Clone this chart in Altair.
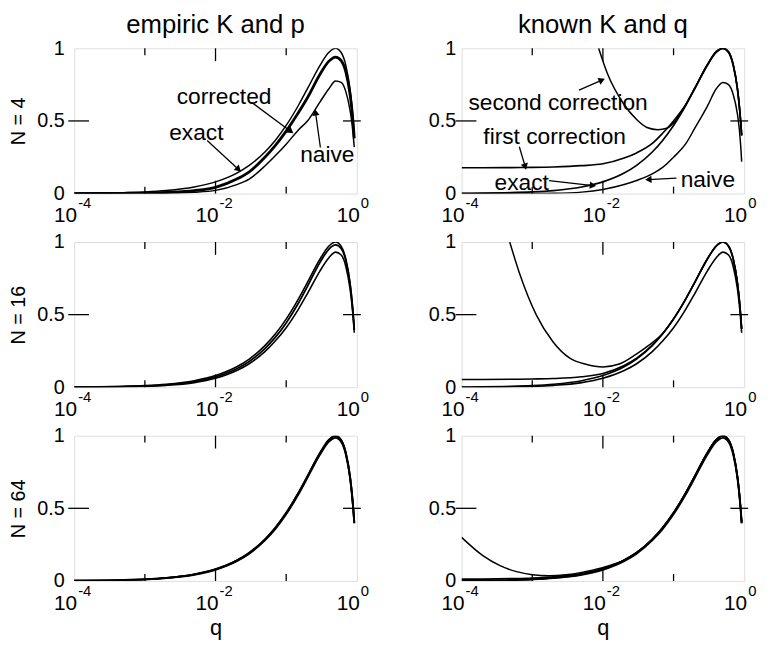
import math
import altair as alt
import pandas as pd

FONT = "Liberation Sans"
PW, PH = 286, 147

# ---------------- data ----------------
Q = [1e-4, 2e-4, 5e-4, 1e-3, 2e-3, 5e-3, 0.01, 0.02, 0.03, 0.05, 0.07, 0.1,
     0.15, 0.2, 0.3, 0.4, 0.5, 0.6, 0.7, 0.8, 0.85, 0.9, 0.92]

exact = [0.0015, 0.0027, 0.0062, 0.0114, 0.0208, 0.0454, 0.0808, 0.1414, 0.1944,
         0.2864, 0.3659, 0.469, 0.6098, 0.7219, 0.8813, 0.971, 1.0, 0.971, 0.8813,
         0.7219, 0.6098, 0.469, 0.4022]

# N = 4
emp4_corrected = [0.0004, 0.0008, 0.002, 0.004, 0.009, 0.021, 0.043, 0.1, 0.15, 0.25,
                  0.33, 0.43, 0.56, 0.66, 0.82, 0.91, 0.94, 0.915, 0.835, 0.685, 0.58,
                  0.445, 0.38]
emp4_naive = [0.0, 0.0001, 0.0005, 0.0012, 0.003, 0.009, 0.022, 0.062, 0.1, 0.19, 0.26,
              0.34, 0.44, 0.5, 0.63, 0.72, 0.775, 0.765, 0.7, 0.575, 0.49, 0.37, 0.32]
known4_naive = [0.0, 0.0001, 0.0003, 0.0008, 0.002, 0.01, 0.028, 0.062, 0.09, 0.135, 0.18,
                0.25, 0.345, 0.45, 0.6, 0.72, 0.765, 0.75, 0.68, 0.55, 0.45, 0.3, 0.22]
known4_first = [0.178, 0.178, 0.179, 0.18, 0.183, 0.192, 0.205, 0.245, 0.28, 0.345, 0.415,
                0.5, 0.615, 0.725, 0.885, 0.975, 1.0, 0.975, 0.885, 0.725, 0.61, 0.47, 0.4]
known4_second_q = [0.0087, 0.0115, 0.0195, 0.03, 0.042, 0.06, 0.08, 0.11, 0.15, 0.2, 0.3,
                   0.4, 0.5, 0.6, 0.7, 0.8, 0.85, 0.9, 0.92]
known4_second = [1.0, 0.83, 0.62, 0.51, 0.455, 0.44, 0.45, 0.51, 0.615, 0.727, 0.887,
                 0.978, 1.0, 0.978, 0.887, 0.727, 0.61, 0.47, 0.40]

# N = 16
emp16_corrected = [0.001, 0.002, 0.005, 0.009, 0.017, 0.039, 0.072, 0.128, 0.178, 0.266,
                   0.343, 0.443, 0.582, 0.695, 0.858, 0.95, 0.98, 0.955, 0.87, 0.712,
                   0.6, 0.46, 0.395]
naive16 = [0.0005, 0.001, 0.003, 0.006, 0.013, 0.032, 0.062, 0.115, 0.162, 0.245, 0.318,
           0.41, 0.54, 0.645, 0.8, 0.89, 0.93, 0.91, 0.83, 0.68, 0.575, 0.44, 0.375]
known16_first = [0.054, 0.054, 0.055, 0.057, 0.06, 0.072, 0.095, 0.15, 0.2, 0.29, 0.368,
                 0.47, 0.61, 0.722, 0.881, 0.971, 1.0, 0.971, 0.881, 0.722, 0.61, 0.469,
                 0.402]
known16_second_q = [4.8e-4, 6.6e-4, 1.15e-3, 1.95e-3, 3.4e-3, 5.75e-3, 0.01, 0.017, 0.029,
                    0.045, 0.07, 0.1, 0.15, 0.2, 0.3, 0.4, 0.5, 0.6, 0.7, 0.8, 0.85, 0.9,
                    0.92]
known16_second = [1.0, 0.785, 0.495, 0.315, 0.2, 0.158, 0.14, 0.16, 0.225, 0.29, 0.37,
                  0.472, 0.612, 0.724, 0.883, 0.973, 1.0, 0.973, 0.883, 0.723, 0.61, 0.47,
                  0.402]

# N = 64
emp64_corrected = [0.0013, 0.0026, 0.006, 0.0112, 0.0205, 0.0448, 0.08, 0.14, 0.193,
                   0.285, 0.364, 0.467, 0.607, 0.719, 0.878, 0.968, 0.997, 0.968, 0.878,
                   0.72, 0.608, 0.468, 0.401]
naive64 = [0.001, 0.0023, 0.0055, 0.0105, 0.0195, 0.043, 0.077, 0.136, 0.188, 0.279,
           0.357, 0.459, 0.598, 0.71, 0.868, 0.957, 0.985, 0.957, 0.868, 0.711, 0.6,
           0.462, 0.396]
known64_first = [0.012, 0.013, 0.016, 0.02, 0.028, 0.05, 0.085, 0.143, 0.195, 0.287,
                 0.366, 0.469, 0.61, 0.722, 0.881, 0.971, 1.0, 0.971, 0.881, 0.722, 0.61,
                 0.469, 0.402]
known64_second_q = [1e-4, 2e-4, 3.5e-4, 6e-4, 1e-3, 1.75e-3, 3e-3, 5e-3, 0.0095, 0.02,
                    0.03, 0.05, 0.07, 0.1, 0.15, 0.2, 0.3, 0.4, 0.5, 0.6, 0.7, 0.8, 0.85,
                    0.9, 0.92]
known64_second = [0.30, 0.174, 0.105, 0.064, 0.043, 0.036, 0.043, 0.059, 0.089, 0.145,
                  0.196, 0.287, 0.366, 0.469, 0.61, 0.722, 0.881, 0.971, 1.0, 0.971,
                  0.881, 0.722, 0.61, 0.469, 0.402]

# axis ticks and labels
X_LABEL_TICKS = [1e-4, 1e-2, 1.0]
X_LABEL_BASE = ["10", "10", "10"]
X_LABEL_EXP = ["-4", "-2", "0"]
X_MAJOR_INNER = [1e-2]
X_MINOR_INNER = [1e-3, 1e-1]
Y_LABEL_TICKS = [0, 0.5, 1]
Y_INNER = [0.5]

# annotations
tl_text = ["corrected", "exact", "naive"]
tl_text_q = [0.0132, 0.00535, 0.382]
tl_text_v = [0.662, 0.414, 0.262]
tl_arrow_q1 = [0.0324, 0.00762, 0.305]
tl_arrow_v1 = [0.628, 0.366, 0.317]
tl_arrow_q2 = [0.1164, 0.0212, 0.26]
tl_arrow_v2 = [0.428, 0.166, 0.559]

tr_text = ["second correction", "first correction", "exact", "naive"]
tr_text_q = [0.00232, 0.002075, 0.000711, 0.306]
tr_text_v = [0.62, 0.387, 0.072, 0.096]
tr_arrow_q1 = [0.00459, 0.000656, 0.001734, 0.110]
tr_arrow_v1 = [0.712, 0.322, 0.089, 0.107]
tr_arrow_q2 = [0.00968, 0.000796, 0.00723, 0.044]
tr_arrow_v2 = [0.781, 0.185, 0.055, 0.096]

COL_TITLES = ["empiric K and p", "known K and q"]
ROW_TITLES = ["N = 4", "N = 16", "N = 64"]

# ---------------- chart ----------------
XS = alt.Scale(type="log", domain=[1e-4, 1], nice=False)
YS = alt.Scale(domain=[0, 1], nice=False, zero=False)
YLAB = "datum.value == 0.5 ? '0.5' : (datum.value == 1 ? '1' : '0')"


def panel(curves, ytitle, xtitle, left, title=None, texts=None, arrows=None):
    xaxis = alt.Axis(values=X_LABEL_TICKS, labels=False, ticks=False, domain=False,
                     grid=False, titleFontSize=22, titleFontWeight="normal",
                     titlePadding=37)
    yaxis = alt.Axis(values=Y_LABEL_TICKS, labelExpr=YLAB, ticks=False, domain=False,
                     grid=False, labelFontSize=20, labelPadding=(10 if left else 6),
                     labelFlush=False, labelOverlap=False, titleFontSize=20,
                     titleFontWeight="normal", titlePadding=8)

    def X(f="q"):
        return alt.X(f"{f}:Q", scale=XS, axis=xaxis, title=xtitle)

    def Y(f="v"):
        return alt.Y(f"{f}:Q", scale=YS, axis=yaxis, title=ytitle)

    layers = []
    for q, v, sw in curves:
        df = pd.DataFrame({"q": q, "v": v})
        layers.append(alt.Chart(df).mark_line(color="black", strokeWidth=sw,
                                              interpolate="monotone", clip=True)
                      .encode(x=X(), y=Y()))
    for ticks, L in ((X_MAJOR_INNER, 13), (X_MINOR_INNER, 7)):
        df = pd.DataFrame({"q": ticks})
        layers.append(alt.Chart(df).mark_rule(color="black", strokeWidth=1.3)
                      .encode(x=X(), y=alt.value(0), y2=alt.value(L)))
        layers.append(alt.Chart(df).mark_rule(color="black", strokeWidth=1.3)
                      .encode(x=X(), y=alt.value(PH), y2=alt.value(PH - L)))
    dfy = pd.DataFrame({"v": Y_INNER})
    layers.append(alt.Chart(dfy).mark_rule(color="black", strokeWidth=1.3)
                  .encode(y=Y(), x=alt.value(-6), x2=alt.value(15)))
    layers.append(alt.Chart(dfy).mark_rule(color="black", strokeWidth=1.3)
                  .encode(y=Y(), x=alt.value(PW - 14), x2=alt.value(PW + 4)))
    # x tick labels: "10" with superscript exponent
    dfl = pd.DataFrame({"q": X_LABEL_TICKS, "base": X_LABEL_BASE, "exp": X_LABEL_EXP})
    layers.append(alt.Chart(dfl).mark_text(font=FONT, fontSize=21, color="black",
                                           align="right", baseline="top", dx=3)
                  .encode(x=X(), y=alt.value(PH + 12), text="base:N"))
    layers.append(alt.Chart(dfl).mark_text(font=FONT, fontSize=15, color="black",
                                           align="left", baseline="top", dx=4)
                  .encode(x=X(), y=alt.value(PH + 3), text="exp:N"))
    if texts is not None:
        lab, tq, tv = texts
        df = pd.DataFrame({"q": tq, "v": tv, "label": lab})
        layers.append(alt.Chart(df).mark_text(font=FONT, fontSize=23, color="black",
                                              align="center", baseline="middle")
                      .encode(x=X(), y=Y(), text="label:N"))
    if arrows is not None:
        q1, v1, q2, v2 = arrows
        ang = []
        for a, b, c, d in zip(q1, v1, q2, v2):
            dx = (math.log10(c) - math.log10(a)) * PW / 4
            dy = -(d - b) * PH
            ang.append(math.degrees(math.atan2(dx, -dy)) % 360)
        df = pd.DataFrame({"q1": q1, "v1": v1, "q2": q2, "v2": v2, "ang": ang})
        layers.append(alt.Chart(df).mark_rule(color="black", strokeWidth=1.3)
                      .encode(x=X("q1"), x2="q2:Q", y=Y("v1"), y2="v2:Q"))
        layers.append(alt.Chart(df).mark_point(shape="triangle-up", filled=True,
                                               size=55, color="black", opacity=1)
                      .encode(x=X("q2"), y=Y("v2"),
                              angle=alt.Angle("ang:Q", scale=None)))
    ch = alt.layer(*layers)
    if title is not None:
        ch = ch.properties(width=PW, height=PH,
                           title=alt.TitleParams(title, fontSize=26, font=FONT,
                                                 fontWeight="normal", anchor="middle",
                                                 offset=0, color="black"))
    else:
        ch = ch.properties(width=PW, height=PH)
    return ch


p1 = panel([(Q, exact, 1.5), (Q, emp4_corrected, 2.8), (Q, emp4_naive, 1.5)],
           ROW_TITLES[0], None, True, COL_TITLES[0],
           (tl_text, tl_text_q, tl_text_v),
           (tl_arrow_q1, tl_arrow_v1, tl_arrow_q2, tl_arrow_v2))
p2 = panel([(Q, exact, 1.7), (Q, known4_first, 1.7), (known4_second_q, known4_second, 1.5),
            (Q, known4_naive, 1.5)],
           None, None, False, COL_TITLES[1],
           (tr_text, tr_text_q, tr_text_v),
           (tr_arrow_q1, tr_arrow_v1, tr_arrow_q2, tr_arrow_v2))
p3 = panel([(Q, exact, 1.6), (Q, emp16_corrected, 1.8), (Q, naive16, 1.6)],
           ROW_TITLES[1], None, True)
p4 = panel([(Q, exact, 1.6), (Q, known16_first, 1.6), (known16_second_q, known16_second, 1.5),
            (Q, naive16, 1.6)],
           None, None, False)
p5 = panel([(Q, exact, 1.9), (Q, emp64_corrected, 1.9), (Q, naive64, 1.9)],
           ROW_TITLES[2], "q", True)
p6 = panel([(Q, exact, 1.9), (Q, known64_first, 1.7), (known64_second_q, known64_second, 1.5),
            (Q, naive64, 1.9)],
           None, "q", False)

chart = alt.concat(p1, p2, p3, p4, p5, p6, columns=2,
                   spacing={"row": 49, "column": 106}, bounds="flush").properties(
    padding={"left": 0, "top": 0, "right": 5, "bottom": 0}
).configure_view(stroke="black", strokeWidth=1.5).configure_axis(
    labelFont=FONT, titleFont=FONT, labelColor="black", titleColor="black"
).configure(background="white")

chart.save("out.html", embed_options={"renderer": "svg", "actions": False})
